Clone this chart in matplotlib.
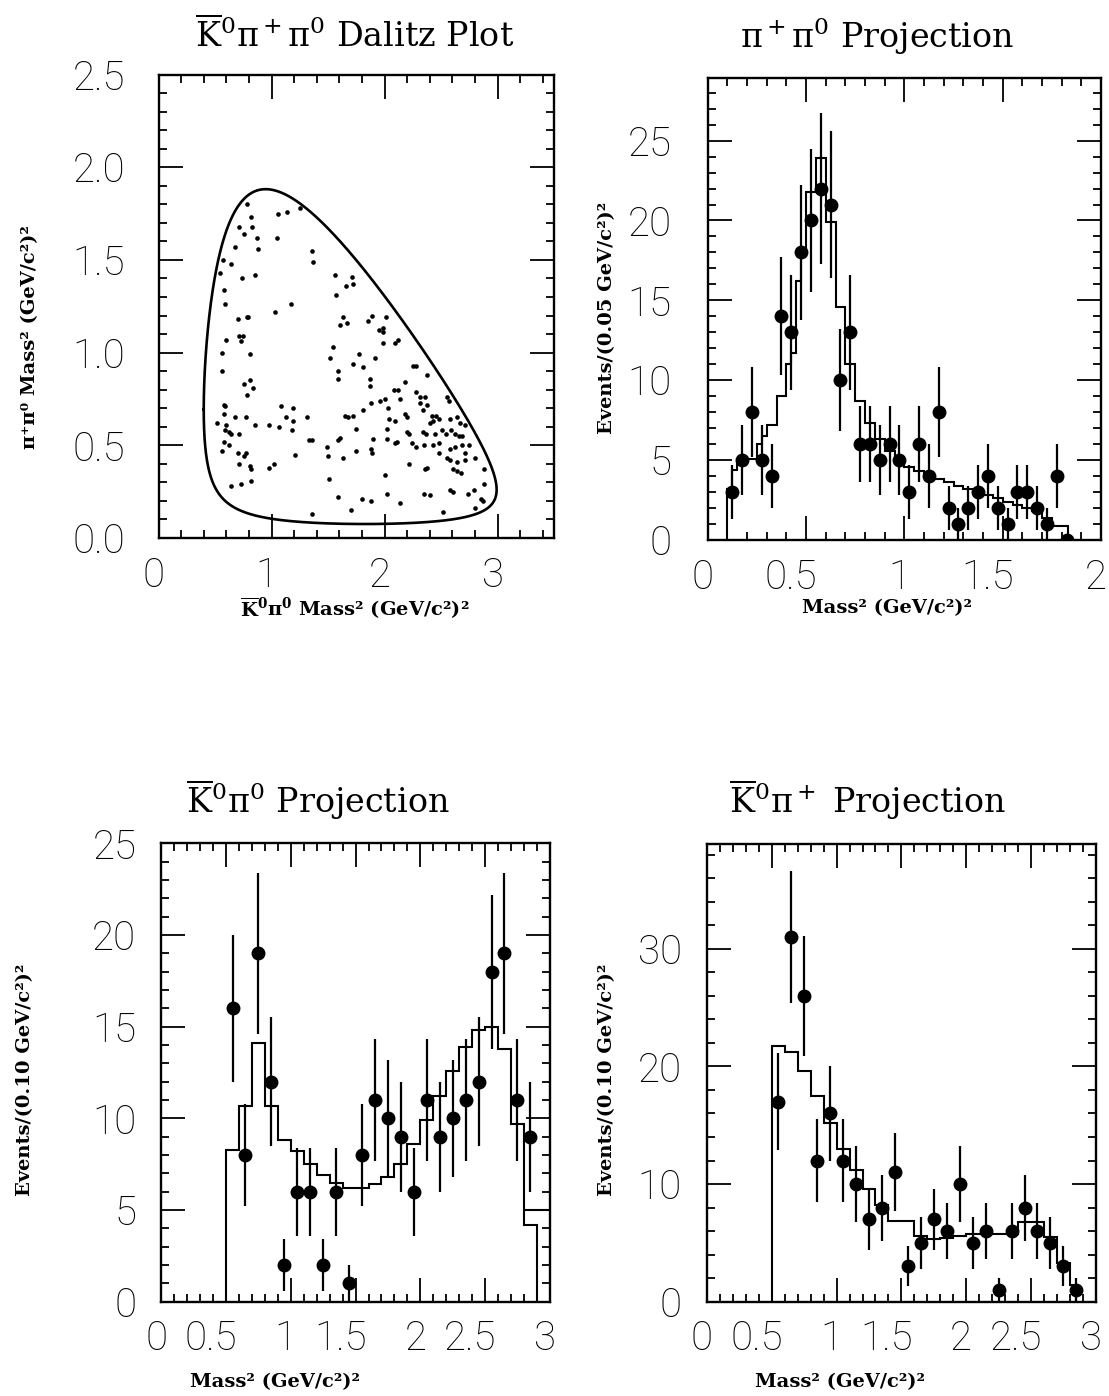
import numpy as np
import matplotlib
matplotlib.use('Agg')
import matplotlib.pyplot as plt
from matplotlib.ticker import MultipleLocator
from matplotlib.transforms import ScaledTranslation

plt.rcParams['font.family'] = 'DejaVu Serif'
plt.rcParams['mathtext.fontset'] = 'dejavuserif'

# masses (GeV) for the D+ -> K0bar pi+ pi0 Dalitz boundary
M_D = 1.8694
M_K = 0.4977
M_PIC = 0.13957
M_PI0 = 0.13498

# Dalitz plot events: x = m2(K0bar pi0), y = m2(pi+ pi0)
dal_x = [0.78, 1.06, 1.14, 1.25, 0.82, 0.71, 0.83, 0.76, 0.87, 1.05, 0.68, 0.88, 1.36, 0.57, 0.64, 1.37,
         0.54, 0.74, 0.85, 1.56, 1.71, 1.66, 1.72, 0.58, 1.57, 0.59, 1.17, 1.03, 0.70, 0.78, 0.79, 1.63,
         1.61, 1.67, 0.60, 0.71, 0.75, 0.73, 0.565, 0.81, 1.54, 1.52,
         1.89, 1.85, 2.01, 1.95, 1.99, 1.99, 2.12, 2.09, 1.99, 1.77, 1.92,
         1.72, 1.59, 1.59, 0.56, 0.81, 0.76, 0.84, 0.78, 0.58, 0.59, 1.08, 1.19, 0.58, 0.68, 0.77, 1.31,
         1.13, 1.19, 1.65, 1.68, 1.72, 0.52, 0.60, 0.85, 0.98, 1.07, 0.59, 0.62, 0.64, 0.71, 1.18, 1.33,
         1.36, 1.59, 1.61, 0.58, 0.62, 0.56, 0.70, 0.77, 0.76, 1.49, 1.50, 1.21, 1.63, 0.71, 0.81, 0.82,
         0.98, 1.02, 0.82, 0.64, 0.73, 1.51, 1.59, 1.70, 1.36,
         1.81, 1.87, 1.87, 2.25, 2.28, 2.38, 2.18, 2.08, 2.12, 2.28, 1.88, 1.96, 2.00, 2.14, 2.31, 2.36,
         2.31, 2.38, 2.55, 2.57, 1.81, 2.03, 2.18, 2.20, 2.34, 2.04, 2.09, 2.42, 2.46, 2.48, 2.43, 2.40,
         2.58, 2.64, 2.67, 2.71, 1.75, 2.02, 2.20, 2.22, 2.34, 2.37, 2.45, 2.51, 2.54, 2.59, 2.62, 2.66,
         2.69, 1.90, 2.02, 2.11, 2.09, 2.24, 2.28, 2.35, 2.43, 2.48, 2.58, 2.62, 2.69, 2.75, 1.75, 1.88,
         1.89, 2.48, 2.71, 2.55, 2.58, 2.64, 2.71, 2.80, 2.22, 2.36, 2.38, 2.61, 2.64, 2.68, 2.88, 2.00,
         2.88, 2.58, 2.61, 2.35, 2.40, 2.02, 2.74, 2.79, 1.80, 1.88, 2.14, 2.85, 2.87, 2.52, 2.80]
dal_y = [1.80, 1.75, 1.76, 1.78, 1.73, 1.68, 1.68, 1.64, 1.62, 1.62, 1.57, 1.56, 1.55, 1.50, 1.48, 1.49,
         1.43, 1.40, 1.42, 1.42, 1.41, 1.36, 1.37, 1.34, 1.31, 1.26, 1.26, 1.22, 1.18, 1.19, 1.19, 1.19,
         1.15, 1.16, 1.07, 1.09, 1.09, 1.06, 1.00, 0.99, 1.03, 0.97,
         1.20, 1.17, 1.19, 1.12, 1.13, 1.11, 1.07, 1.05, 1.05, 0.99, 0.97,
         0.94, 0.90, 0.86, 0.90, 0.85, 0.83, 0.81, 0.77, 0.72, 0.71, 0.71, 0.70, 0.67, 0.65, 0.65, 0.65,
         0.65, 0.63, 0.66, 0.65, 0.66, 0.62, 0.61, 0.61, 0.61, 0.60, 0.58, 0.57, 0.56, 0.56, 0.58, 0.53,
         0.53, 0.53, 0.54, 0.52, 0.50, 0.47, 0.46, 0.46, 0.44, 0.49, 0.44, 0.45, 0.43, 0.40, 0.39, 0.37,
         0.38, 0.40, 0.31, 0.28, 0.29, 0.32, 0.22, 0.15, 0.13,
         0.92, 0.86, 0.82, 0.93, 0.93, 0.88, 0.84, 0.80, 0.80, 0.79, 0.73, 0.74, 0.75, 0.75, 0.76, 0.76,
         0.73, 0.72, 0.76, 0.74, 0.69, 0.70, 0.67, 0.65, 0.69, 0.64, 0.63, 0.66, 0.66, 0.64, 0.63, 0.62,
         0.64, 0.65, 0.62, 0.61, 0.59, 0.59, 0.57, 0.56, 0.57, 0.56, 0.56, 0.58, 0.56, 0.58, 0.56, 0.55,
         0.55, 0.535, 0.535, 0.52, 0.51, 0.51, 0.49, 0.50, 0.50, 0.51, 0.48, 0.49, 0.50, 0.50, 0.47, 0.48,
         0.46, 0.46, 0.46, 0.43, 0.42, 0.41, 0.42, 0.43, 0.40, 0.37, 0.38, 0.37, 0.36, 0.35, 0.37, 0.34,
         0.29, 0.26, 0.25, 0.24, 0.23, 0.24, 0.24, 0.26, 0.21, 0.20, 0.19, 0.21, 0.20, 0.14, 0.16]

# pi+ pi0 projection (0.05 bins)
pp_x = [0.125, 0.175, 0.225, 0.275, 0.325, 0.375, 0.425, 0.475, 0.525, 0.575, 0.625, 0.675,
        0.725, 0.775, 0.825, 0.875, 0.925, 0.975, 1.025, 1.075, 1.125, 1.175, 1.225, 1.275,
        1.325, 1.375, 1.425, 1.475, 1.525, 1.575, 1.625, 1.675, 1.725, 1.775, 1.825]
pp_n = [3, 5, 8, 5, 4, 14, 13, 18, 20, 22, 21, 10, 13, 6, 6, 5, 6, 5, 3, 6, 4, 8, 2, 1,
        2, 3, 4, 2, 1, 3, 3, 2, 1, 4, 0]
pp_err = [1.7, 2.2, 2.8, 2.2, 2.0, 3.7, 3.6, 4.2, 4.5, 4.7, 4.6, 3.2, 3.6, 2.4, 2.4, 2.2, 2.4, 2.2,
          1.7, 2.4, 2.0, 2.8, 1.4, 1.0, 1.4, 1.7, 2.0, 1.4, 1.0, 1.7, 1.7, 1.4, 1.0, 2.0, 0.0]
pp_fit_edges = [0.10, 0.125, 0.15, 0.25, 0.275, 0.30, 0.35, 0.40, 0.425, 0.45, 0.475, 0.50, 0.55,
                0.60, 0.65, 0.70, 0.75, 0.80, 0.85, 0.90, 0.95, 1.00, 1.05, 1.10, 1.15, 1.20, 1.25,
                1.30, 1.35, 1.40, 1.45, 1.50, 1.55, 1.60, 1.65, 1.70, 1.75, 1.80, 1.83]
pp_fit = [3.2, 4.4, 5.1, 6.0, 6.5, 7.2, 9.0, 11.0, 11.7, 16.2, 18.0, 21.8, 23.9, 19.9, 14.6, 11.0,
          8.7, 7.3, 6.3, 5.6, 5.1, 4.6, 4.3, 4.0, 3.8, 3.6, 3.4, 3.2, 3.0, 2.8, 2.6, 2.4, 2.2, 2.0,
          1.8, 1.4, 0.9, 0.9]

# K0bar pi0 and K0bar pi+ projections (0.10 bins)
km_x = [0.55, 0.65, 0.75, 0.85, 0.95, 1.05, 1.15, 1.25, 1.35, 1.45, 1.55, 1.65,
        1.75, 1.85, 1.95, 2.05, 2.15, 2.25, 2.35, 2.45, 2.55, 2.65, 2.75, 2.85]
k0_n = [16, 8, 19, 12, 2, 6, 6, 2, 6, 1, 8, 11, 10, 9, 6, 11, 9, 10, 11, 12, 18, 19, 11, 9]
k0_err = [4.0, 2.8, 4.4, 3.5, 1.4, 2.4, 2.4, 1.4, 2.4, 1.0, 2.8, 3.3, 3.2, 3.0, 2.4, 3.3,
          3.0, 3.2, 3.3, 3.5, 4.2, 4.4, 3.3, 3.0]
k0_fit_edges = [0.5, 0.6, 0.7, 0.8, 0.9, 1.0, 1.1, 1.2, 1.3, 1.4, 1.5, 1.6, 1.7, 1.8, 1.9,
                2.0, 2.1, 2.2, 2.3, 2.4, 2.5, 2.6, 2.7, 2.8, 2.9]
k0_fit = [8.3, 10.7, 14.1, 10.7, 8.8, 8.2, 7.5, 6.9, 6.45, 6.2, 6.2, 6.4, 6.8, 7.5, 8.6,
          9.9, 11.2, 12.6, 13.9, 14.8, 15.0, 13.8, 9.7, 4.2]
k0_tail = 5.0

kp_n = [17, 31, 26, 12, 16, 12, 10, 7, 8, 11, 3, 5, 7, 6, 10, 5, 6, 1, 6, 8, 6, 5, 3, 1]
kp_err = [4.1, 5.6, 5.1, 3.5, 4.0, 3.5, 3.2, 2.6, 2.8, 3.3, 1.7, 2.2, 2.6, 2.4, 3.2, 2.2,
          2.4, 1.0, 2.4, 2.8, 2.4, 2.2, 1.7, 1.0]
kp_fit_edges = [0.5, 0.6, 0.7, 0.8, 0.9, 1.0, 1.1, 1.2, 1.3, 1.4, 1.5, 1.6, 1.7, 1.8, 1.9,
                2.0, 2.1, 2.2, 2.3, 2.4, 2.5, 2.6, 2.7, 2.8, 2.85]
kp_fit = [21.7, 21.2, 19.6, 17.5, 15.2, 13.0, 11.2, 9.6, 8.2, 6.9, 6.9, 5.6, 5.3, 5.4,
          5.6, 5.75, 5.75, 5.75, 5.75, 6.8, 6.8, 5.5, 3.3, 1.4]

xt_dalitz = [0, 1, 2, 3]
xt_dalitz_lab = ['0', '1', '2', '3']
xt_top_right = [0, 0.5, 1, 1.5, 2]
xt_top_right_lab = ['0', '0.5', '1', '1.5', '2']
xt_bottom = [0, 0.5, 1, 1.5, 2, 2.5, 3]
xt_bottom_lab = ['0', '0.5', '1', '1.5', '2', '2.5', '3']

W, H = 1109, 1396
fig = plt.figure(figsize=(W / 100, H / 100), dpi=100)
TICK_FONT = dict(family='Roboto', weight='light', size=29)


def px_axes(l, t, r, b):
    return fig.add_axes([l / W, 1 - b / H, (r - l) / W, (b - t) / H])


def style(ax, xmin, ymin, ypad=18):
    ax.xaxis.set_minor_locator(MultipleLocator(xmin))
    ax.yaxis.set_minor_locator(MultipleLocator(ymin))
    ax.tick_params(which='both', direction='in', top=True, right=True, width=1.3, colors='k')
    ax.tick_params(which='major', length=17)
    ax.tick_params(which='minor', length=6)
    ax.tick_params(axis='x', pad=13)
    ax.tick_params(axis='y', pad=ypad)
    for s in ax.spines.values():
        s.set_linewidth(1.7)
    for lab in ax.get_xticklabels() + ax.get_yticklabels():
        lab.set_fontproperties(TICK_FONT)
    # the x labels of the original sit a little left of their ticks
    for lab in ax.get_xticklabels():
        dx = -15 if '.' in lab.get_text() else -5
        lab.set_transform(lab.get_transform() + ScaledTranslation(dx / 100, 0, fig.dpi_scale_trans))


def data_points(ax, x, n, err):
    ax.errorbar(x, n, yerr=err, fmt='o', color='k', ms=9, elinewidth=1.6, capsize=0)


# ---- Dalitz plot
ax1 = px_axes(158.5, 74.5, 554, 538)
t = np.linspace(0, np.pi, 1500)
s_lo, s_hi = (M_K + M_PI0) ** 2, (M_D - M_PIC) ** 2
s12 = s_lo + (s_hi - s_lo) * (1 - np.cos(t)) / 2
e2 = (s12 - M_K ** 2 + M_PI0 ** 2) / (2 * np.sqrt(s12))
e3 = (M_D ** 2 - s12 - M_PIC ** 2) / (2 * np.sqrt(s12))
p2 = np.sqrt(np.clip(e2 ** 2 - M_PI0 ** 2, 0, None))
p3 = np.sqrt(np.clip(e3 ** 2 - M_PIC ** 2, 0, None))
hi = (e2 + e3) ** 2 - (p2 - p3) ** 2
lo = (e2 + e3) ** 2 - (p2 + p3) ** 2
ax1.plot(np.concatenate([s12, s12[::-1]]), np.concatenate([hi, lo[::-1]]),
         color='k', lw=1.9, solid_joinstyle='round')
ax1.scatter(dal_x, dal_y, s=11, color='k', linewidths=0)
ax1.set_xlim(0, 3.5)
ax1.set_ylim(0, 2.5)
ax1.set_xticks(xt_dalitz, xt_dalitz_lab)
ax1.set_yticks([0, 0.5, 1.0, 1.5, 2.0, 2.5], ['0.0', '0.5', '1.0', '1.5', '2.0', '2.5'])
style(ax1, 0.2, 0.1, ypad=24)

# ---- pi+ pi0 projection
ax2 = px_axes(707.7, 78.3, 1101, 540)
ax2.stairs(pp_fit, pp_fit_edges, baseline=0, color='k', lw=1.5)
data_points(ax2, pp_x, pp_n, pp_err)
ax2.set_xlim(0, 2)
ax2.set_ylim(0, 28.9)
ax2.set_xticks(xt_top_right, xt_top_right_lab)
ax2.set_yticks([0, 5, 10, 15, 20, 25])
style(ax2, 0.1, 1, ypad=26)

# ---- K0bar pi0 projection
ax3 = px_axes(161.3, 843.3, 549.8, 1301.7)
ax3.stairs(k0_fit, k0_fit_edges, baseline=0, color='k', lw=1.5)
ax3.hlines(k0_tail, 2.8, 3.0, color='k', lw=1.5)
data_points(ax3, km_x, k0_n, k0_err)
ax3.set_xlim(0, 3)
ax3.set_ylim(0, 25)
ax3.set_xticks(xt_bottom, xt_bottom_lab)
ax3.set_yticks([0, 5, 10, 15, 20, 25])
style(ax3, 0.1, 1)

# ---- K0bar pi+ projection
ax4 = px_axes(707, 844, 1095.8, 1301.7)
ax4.stairs(kp_fit, kp_fit_edges, baseline=0, color='k', lw=1.5)
data_points(ax4, km_x, kp_n, kp_err)
ax4.set_xlim(0, 3)
ax4.set_ylim(0, 38.9)
ax4.set_xticks(xt_bottom, xt_bottom_lab)
ax4.set_yticks([0, 10, 20, 30])
style(ax4, 0.1, 2)


def ftext(x, y, s, **kw):
    fig.text(x / W, 1 - y / H, s, ha='center', va='center', **kw)


kbar = r'$\overline{\mathrm{K}}^0$'
ftext(355, 35, kbar + r'$\mathrm{\pi}^+\mathrm{\pi}^0$ Dalitz Plot', fontsize=24)
ftext(877, 36, r'$\mathrm{\pi}^+\mathrm{\pi}^0$ Projection', fontsize=24)
ftext(318, 800, kbar + r'$\mathrm{\pi}^0$ Projection', fontsize=24)
ftext(868, 800, kbar + r'$\mathrm{\pi}^+$ Projection', fontsize=24)

lab_kw = dict(fontsize=14, fontweight='bold')
ftext(355, 608, r'$\overline{\mathbf{K}}^\mathbf{0}\mathbf{\pi}^\mathbf{0}$ Mass² (GeV/c²)²', **lab_kw)
ftext(887, 608, 'Mass² (GeV/c²)²', **lab_kw)
ftext(275, 1382, 'Mass² (GeV/c²)²', **lab_kw)
ftext(840, 1382, 'Mass² (GeV/c²)²', **lab_kw)
ftext(30, 337, 'π⁺π⁰ Mass² (GeV/c²)²', rotation=90, **lab_kw)
ftext(607, 318, 'Events/(0.05 GeV/c²)²', rotation=90, **lab_kw)
ftext(25, 1080, 'Events/(0.10 GeV/c²)²', rotation=90, **lab_kw)
ftext(607, 1080, 'Events/(0.10 GeV/c²)²', rotation=90, **lab_kw)

fig.savefig('out.png', dpi=100, facecolor='white')
